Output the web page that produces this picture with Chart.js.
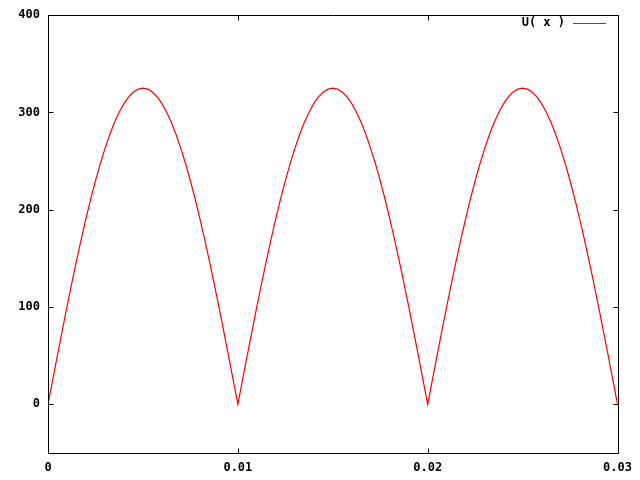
<!DOCTYPE html>
<html>
<head>
<meta charset="utf-8">
<script src="https://cdn.jsdelivr.net/npm/chart.js@4"></script>
<style>
html,body{margin:0;padding:0;background:#fff;}
#wrap{width:640px;height:480px;}
</style>
</head>
<body>
<div id="wrap"><canvas id="c" width="640" height="480"></canvas></div>
<script>
const seriesLabel = 'U( x )';
const xValues = [
0,0.00025,0.0005,0.00075,0.001,0.00125,0.0015,0.00175,0.002,0.00225,0.0025,0.00275,0.003,0.00325,0.0035,0.00375,0.004,0.00425,0.0045,0.00475,
0.005,0.00525,0.0055,0.00575,0.006,0.00625,0.0065,0.00675,0.007,0.00725,0.0075,0.00775,0.008,0.00825,0.0085,0.00875,0.009,0.00925,0.0095,0.00975,
0.01,0.01025,0.0105,0.01075,0.011,0.01125,0.0115,0.01175,0.012,0.01225,0.0125,0.01275,0.013,0.01325,0.0135,0.01375,0.014,0.01425,0.0145,0.01475,
0.015,0.01525,0.0155,0.01575,0.016,0.01625,0.0165,0.01675,0.017,0.01725,0.0175,0.01775,0.018,0.01825,0.0185,0.01875,0.019,0.01925,0.0195,0.01975,
0.02,0.02025,0.0205,0.02075,0.021,0.02125,0.0215,0.02175,0.022,0.02225,0.0225,0.02275,0.023,0.02325,0.0235,0.02375,0.024,0.02425,0.0245,0.02475,
0.025,0.02525,0.0255,0.02575,0.026,0.02625,0.0265,0.02675,0.027,0.02725,0.0275,0.02775,0.028,0.02825,0.0285,0.02875,0.029,0.02925,0.0295,0.02975,
0.03
];
const uValues = [
0,25.5,50.8,75.9,100.4,124.4,147.5,169.8,191.0,211.1,229.8,247.1,262.9,277.1,289.6,300.3,309.1,316.0,321.0,324.0,
325,324.0,321.0,316.0,309.1,300.3,289.6,277.1,262.9,247.1,229.8,211.1,191.0,169.8,147.5,124.4,100.4,75.9,50.8,25.5,
0,25.5,50.8,75.9,100.4,124.4,147.5,169.8,191.0,211.1,229.8,247.1,262.9,277.1,289.6,300.3,309.1,316.0,321.0,324.0,
325,324.0,321.0,316.0,309.1,300.3,289.6,277.1,262.9,247.1,229.8,211.1,191.0,169.8,147.5,124.4,100.4,75.9,50.8,25.5,
0,25.5,50.8,75.9,100.4,124.4,147.5,169.8,191.0,211.1,229.8,247.1,262.9,277.1,289.6,300.3,309.1,316.0,321.0,324.0,
325,324.0,321.0,316.0,309.1,300.3,289.6,277.1,262.9,247.1,229.8,211.1,191.0,169.8,147.5,124.4,100.4,75.9,50.8,25.5,
0
];
const xTicks = [0, 0.01, 0.02, 0.03];
const xTickLabels = ['0', '0.01', '0.02', '0.03'];
const yTicks = [0, 100, 200, 300, 400];
const yTickLabels = ['0', '100', '200', '300', '400'];

const FONT = {family: "'DejaVu Sans Mono', monospace", size: 12, weight: 'bold'};

const framePlugin = {
  id: 'frame',
  afterDraw(chart) {
    const ctx = chart.ctx, a = chart.chartArea;
    const xs = chart.scales.x, ys = chart.scales.y;
    const L = Math.round(a.left) + 0.5, R = Math.round(a.right) + 0.5;
    const T = Math.round(a.top) + 0.5, B = Math.round(a.bottom) + 0.5;
    ctx.save();
    ctx.strokeStyle = '#000';
    ctx.lineWidth = 1;
    ctx.beginPath();
    ctx.rect(L, T, R - L, B - T);
    const tl = 5;
    yTicks.forEach(v => {
      const y = Math.round(ys.getPixelForValue(v)) + 0.5;
      ctx.moveTo(L, y); ctx.lineTo(L + tl, y);
      ctx.moveTo(R, y); ctx.lineTo(R - tl, y);
    });
    xTicks.forEach(v => {
      const x = Math.round(xs.getPixelForValue(v)) + 0.5;
      ctx.moveTo(x, B); ctx.lineTo(x, B - tl);
      ctx.moveTo(x, T); ctx.lineTo(x, T + tl);
    });
    ctx.stroke();
    // legend
    ctx.font = 'bold 12px "DejaVu Sans Mono", monospace';
    ctx.fillStyle = '#000';
    ctx.textAlign = 'right';
    ctx.textBaseline = 'middle';
    ctx.fillText(chart.data.datasets[0].label, 565, 23);
    ctx.strokeStyle = '#ff0000';
    ctx.beginPath();
    ctx.moveTo(573, 23.5); ctx.lineTo(606, 23.5);
    ctx.stroke();
    ctx.restore();
  }
};

new Chart(document.getElementById('c'), {
  type: 'line',
  data: {
    datasets: [{
      label: seriesLabel,
      data: xValues.map((x, i) => ({x: x, y: uValues[i]})),
      borderColor: '#ff0000',
      borderWidth: 1.2,
      pointRadius: 0,
      fill: false,
      tension: 0
    }]
  },
  options: {
    responsive: false,
    animation: false,
    events: [],
    layout: {padding: {left: 0, right: 21, top: 13, bottom: 0}},
    plugins: {legend: {display: false}, tooltip: {enabled: false}},
    scales: {
      x: {
        type: 'linear', min: 0, max: 0.03,
        grid: {display: false, drawTicks: false},
        border: {display: false},
        afterBuildTicks: s => { s.ticks = xTicks.map(v => ({value: v})); },
        afterFit: s => { s.height = 27; },
        ticks: {
          color: '#000', font: FONT, padding: 8, maxRotation: 0, autoSkip: false,
          callback: (v, i) => xTickLabels[i]
        }
      },
      y: {
        type: 'linear', min: -50, max: 400,
        grid: {display: false, drawTicks: false},
        border: {display: false},
        afterBuildTicks: s => { s.ticks = yTicks.map(v => ({value: v})); },
        afterFit: s => { s.width = 48; },
        ticks: {
          color: '#000', font: FONT, padding: 8,
          callback: (v, i) => yTickLabels[i]
        }
      }
    }
  },
  plugins: [framePlugin]
});
</script>
</body>
</html>
